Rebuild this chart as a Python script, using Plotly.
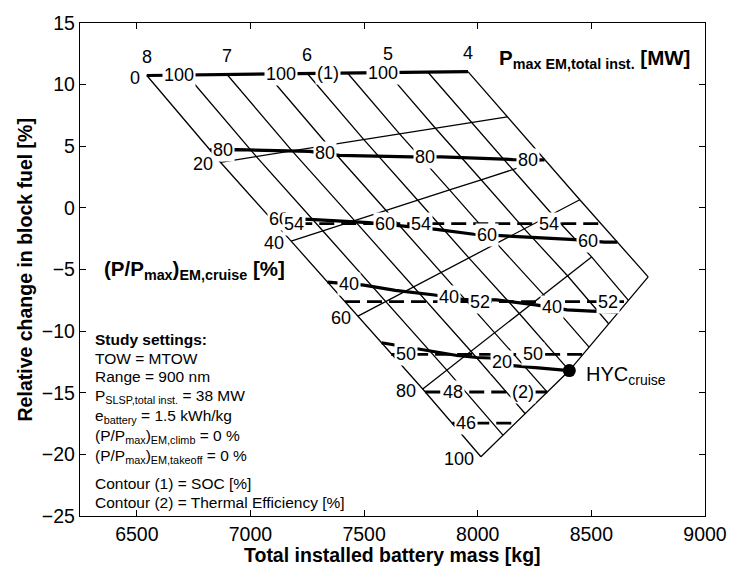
import numpy as np
import plotly.graph_objects as go

# ---------------------------------------------------------------- data ----
# Installed electric-motor power of each carpet line [MW]
p_em = [8.0, 7.5, 7.0, 6.5, 6.0, 5.5, 5.0, 4.5, 4.0]
p_em_labelled = [8, 7, 6, 5, 4]
# Cruise power share of the electric motors [%]
p_share = [0, 20, 40, 60, 80, 100]

# Total installed battery mass [kg] at each grid node (row = power share)
mass = [
    [6544, 6720, 6897, 7073, 7250, 7427, 7603, 7780, 7957],
    [6868, 7026, 7183, 7341, 7499, 7656, 7814, 7972, 8130],
    [7179, 7318, 7458, 7597, 7736, 7876, 8015, 8154, 8294],
    [7473, 7595, 7717, 7839, 7961, 8083, 8205, 8327, 8449],
    [7758, 7864, 7970, 8076, 8183, 8289, 8395, 8501, None],
    [8014, 8111, 8209, 8306, 8403, 8490, 8576, 8663, 8750],
]
# Relative change in block fuel [%] at each grid node
fuel = [
    [10.74, 10.78, 10.82, 10.86, 10.90, 10.94, 10.98, 11.02, 11.06],
    [3.70, 4.16, 4.62, 5.08, 5.54, 6.00, 6.46, 6.92, 7.38],
    [-2.70, -1.86, -1.04, -0.21, 0.62, 1.46, 2.28, 3.11, 3.94],
    [-8.78, -7.60, -6.42, -5.24, -4.06, -2.88, -1.70, -0.52, 0.66],
    [-14.70, -13.16, -11.63, -10.10, -8.57, -7.04, -5.51, -3.98, None],
    [-20.19, -18.44, -16.70, -14.95, -13.20, -11.30, -9.40, -7.50, -5.60],
]

# Contour (1): battery state of charge [%]
soc_levels = [100, 80, 60, 40, 20]
soc_x = [
    [6544, 7957],
    [6822, 6946, 7261, 7391, 7710, 7840, 8155, 8294],
    [7090, 7261, 7520, 7818, 7983, 8112, 8428, 8557, 8614],
    [7339, 7499, 7637, 7810, 7931, 8082, 8255, 8393, 8501, 8619],
    [7577, 7754, 7909, 7996, 8056, 8155, 8403],
]
soc_y = [
    [10.74, 11.06],
    [4.70, 4.72, 4.58, 4.26, 4.13, 4.13, 3.92, 3.90],
    [-0.86, -0.94, -1.20, -1.74, -2.14, -2.26, -2.58, -2.78, -2.78],
    [-6.02, -6.27, -6.70, -7.07, -7.42, -7.47, -7.87, -8.27, -8.38, -8.46],
    [-10.94, -11.50, -11.98, -12.14, -12.18, -12.80, -13.20],
]
soc_label_x = [
    [6686, 7133, 7585],
    [6881, 7327, 7766, 8220],
    [7127, 7594, 8040, 8487],
    [7435, 7875, 8328],
    [8105],
]
soc_tag_x = 7339          # "(1)" tag on the SOC = 100 % contour

# Contour (2): thermal efficiency [%]
te_levels = [54, 52, 50, 48, 46]
te_x = [
    [7109, 8543],
    [7416, 8658],
    [7619, 8462],
    [7769, 8306],
    [7888, 8165],
]
te_y = [
    [-1.28, -1.28],
    [-7.60, -7.60],
    [-11.88, -11.88],
    [-14.94, -14.94],
    [-17.47, -17.47],
]
te_label_x = [
    [7192, 7752, 8314],
    [8012, 8573],
    [7684, 8242],
    [7889],
    [7948],
]
te_tag_x = 8199           # "(2)" tag on the 48 % contour

# Hybrid cruise design point
hyc_mass = [8403]
hyc_fuel = [-13.2]

x_ticks = [6500, 7000, 7500, 8000, 8500, 9000]
y_ticks = [15, 10, 5, 0, -5, -10, -15, -20, -25]

settings_lines = [
    "<b>Study settings:</b>",
    "TOW = MTOW",
    "Range = 900 nm",
    "P<sub>SLSP,total inst.</sub> = 38 MW",
    "e<sub>battery</sub> = 1.5 kWh/kg",
    "(P/P<sub>max</sub>)<sub>EM,climb</sub> = 0 %",
    "(P/P<sub>max</sub>)<sub>EM,takeoff</sub> = 0 %",
    "Contour (1) = SOC [%]",
    "Contour (2) = Thermal Efficiency [%]",
]

# -------------------------------------------------------------- layout ----
W, H = 739, 570
ML, MR, MT, MB = 80, 23, 16, 54
PW, PH = W - ML - MR, H - MT - MB
FONT = "Liberation Sans, Arial, Helvetica, sans-serif"


def paper_x(px):
    return (px - ML) / PW


def paper_y(py):
    return (H - MB - py) / PH


fig = go.Figure()

# carpet grid: lines of constant power share and of constant installed power
gx, gy = [], []
for i in range(len(p_share)):
    for j in range(len(p_em)):
        if mass[i][j] is not None:
            gx.append(mass[i][j])
            gy.append(fuel[i][j])
    gx.append(None)
    gy.append(None)
for j in range(len(p_em)):
    for i in range(len(p_share)):
        if mass[i][j] is not None:
            gx.append(mass[i][j])
            gy.append(fuel[i][j])
    gx.append(None)
    gy.append(None)
fig.add_trace(go.Scatter(x=gx, y=gy, mode="lines",
                         line=dict(color="black", width=1.3),
                         hoverinfo="skip", showlegend=False))

# SOC contours (solid) and thermal-efficiency contours (dashed)
for cx, cy in zip(soc_x, soc_y):
    fig.add_trace(go.Scatter(x=cx, y=cy, mode="lines",
                             line=dict(color="black", width=3.2),
                             hoverinfo="skip", showlegend=False))
for cx, cy in zip(te_x, te_y):
    fig.add_trace(go.Scatter(x=cx, y=cy, mode="lines",
                             line=dict(color="black", width=2.8, dash="15px,7px"),
                             hoverinfo="skip", showlegend=False))

fig.add_trace(go.Scatter(x=hyc_mass, y=hyc_fuel, mode="markers",
                         marker=dict(color="black", size=13),
                         hoverinfo="skip", showlegend=False))

ann = []
LBL = dict(family=FONT, size=18, color="black")


def contour_label(text, x, cx, cy):
    ann.append(dict(x=x, y=float(np.interp(x, cx, cy)), xref="x", yref="y",
                    text=text, showarrow=False, font=LBL,
                    bgcolor="white", borderpad=1,
                    xanchor="center", yanchor="middle"))


for lev, cx, cy, lx in zip(soc_levels, soc_x, soc_y, soc_label_x):
    for x in lx:
        contour_label(str(lev), x, cx, cy)
contour_label("(1)", soc_tag_x, soc_x[0], soc_y[0])
for lev, cx, cy, lx in zip(te_levels, te_x, te_y, te_label_x):
    for x in lx:
        contour_label(str(lev), x, cx, cy)
contour_label("(2)", te_tag_x, te_x[3], te_y[3])

# power-share labels along the 8 MW edge
for i, b in enumerate(p_share):
    ann.append(dict(x=mass[i][0], y=fuel[i][0], xref="x", yref="y",
                    text=str(b), showarrow=False, font=LBL,
                    xanchor="right", yanchor="middle", xshift=-5, yshift=-2))
# installed-power labels above the 0 % line
for a in p_em_labelled:
    j = p_em.index(a)
    ann.append(dict(x=mass[0][j], y=fuel[0][j], xref="x", yref="y",
                    text=str(a), showarrow=False, font=LBL,
                    xanchor="center", yanchor="middle", yshift=19))

ann.append(dict(x=hyc_mass[0], y=hyc_fuel[0], xref="x", yref="y",
                text="HYC<sub>cruise</sub>", showarrow=False,
                font=dict(family=FONT, size=20, color="black"),
                xanchor="left", yanchor="middle", xshift=15, yshift=-5))

TITLE = dict(family=FONT, size=19.5, color="black")
LABEL_TITLE = dict(family=FONT, size=20.5, color="black")
ann.append(dict(x=paper_x(504), y=paper_y(53), xref="paper", yref="paper",
                text="<b>P<sub>max EM,total inst.</sub> [MW]</b>",
                showarrow=False, font=LABEL_TITLE, xanchor="left", yanchor="middle"))
ann.append(dict(x=paper_x(102), y=paper_y(267), xref="paper", yref="paper",
                text="<b>(P/P<sub>max</sub>)<sub>EM,cruise</sub> [%]</b>",
                showarrow=False, font=LABEL_TITLE, xanchor="left", yanchor="middle"))

settings_y = [337, 356, 375, 395, 415, 435, 456, 483, 502]
for txt, py in zip(settings_lines, settings_y):
    ann.append(dict(x=paper_x(93), y=paper_y(py), xref="paper", yref="paper",
                    text=txt, showarrow=False,
                    font=dict(family=FONT, size=15.5, color="black"),
                    xanchor="left", yanchor="middle"))

# axis titles
ann.append(dict(x=0.5, y=paper_y(556), xref="paper", yref="paper",
                text="<b>Total installed battery mass [kg]</b>",
                showarrow=False, font=TITLE, xanchor="center", yanchor="middle"))
ann.append(dict(x=paper_x(24), y=0.5, xref="paper", yref="paper",
                text="<b>Relative change in block fuel [%]</b>", textangle=-90,
                showarrow=False, font=TITLE, xanchor="center", yanchor="middle"))

axis_common = dict(showgrid=False, zeroline=False, showline=True,
                   linecolor="black", linewidth=1.3, mirror="ticks",
                   ticks="inside", ticklen=6, tickwidth=1.1, tickcolor="black",
                   tickfont=dict(family=FONT, size=19.5, color="black"))

fig.update_layout(
    width=W, height=H,
    margin=dict(l=ML, r=MR, t=MT, b=MB),
    paper_bgcolor="white", plot_bgcolor="white",
    xaxis=dict(range=[6250, 9000], tickvals=x_ticks, **axis_common),
    yaxis=dict(range=[-25, 15], tickvals=y_ticks, **axis_common),
    annotations=ann,
    showlegend=False,
)

fig.write_html("out.html")
